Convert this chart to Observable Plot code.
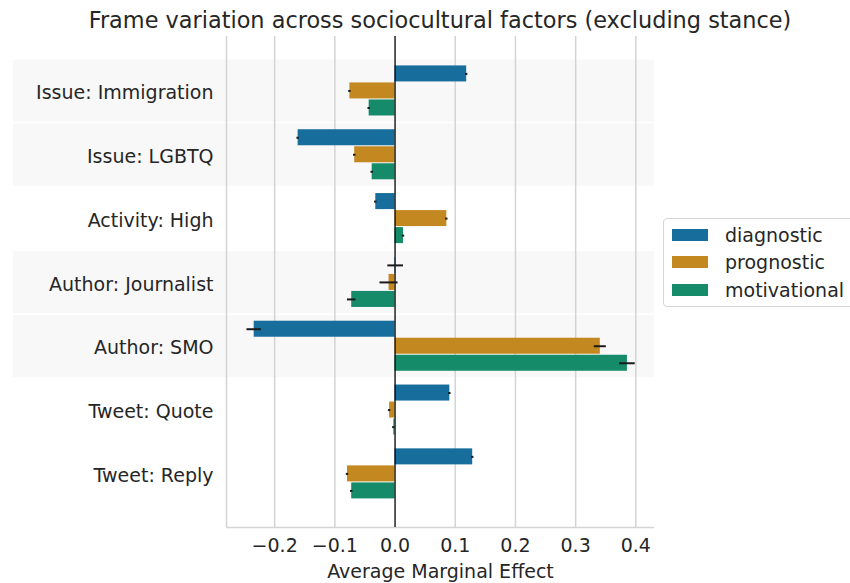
<!DOCTYPE html>
<html>
<head>
<meta charset="utf-8">
<script src="https://cdn.jsdelivr.net/npm/d3@7"></script>
<script src="https://cdn.jsdelivr.net/npm/@observablehq/plot@0.6"></script>
<style>
  html, body { margin: 0; padding: 0; background: white; overflow: hidden; }
  #wrap { position: relative; width: 850px; height: 583px; font-family: "DejaVu Sans", sans-serif; color: #262626; }
  #title { position: absolute; left: 0; top: 6px; width: 880px; text-align: center; font-size: 22.4px; line-height: 28px; white-space: nowrap; }
  #chart { position: absolute; left: 0; top: 36px; }
  #legend { position: absolute; left: 663px; top: 218px; width: 200px; height: 89px; border: 1px solid #d6d6d6; border-radius: 4px; background: white; box-sizing: border-box; }
  .item { position: absolute; left: 0; height: 24px; display: flex; align-items: center; font-size: 19px; }
  .sw { display: inline-block; width: 36px; height: 12px; margin-left: 8px; margin-right: 17px; }
</style>
</head>
<body>
<div id="wrap">
  <div id="title">Frame variation across sociocultural factors (excluding stance)</div>
  <div id="chart"></div>
  <div id="legend"></div>
</div>
<script>
const categories = ["Issue: Immigration", "Issue: LGBTQ", "Activity: High", "Author: Journalist", "Author: SMO", "Tweet: Quote", "Tweet: Reply"];
const frames = ["diagnostic", "prognostic", "motivational"];
const diagnostic    = [0.119, -0.161, -0.032, 0.001, -0.234, 0.091, 0.129];
const diagnosticErr = [0.002, 0.002, 0.002, 0.013, 0.012, 0.002, 0.002];
const prognostic    = [-0.075, -0.067, 0.086, -0.010, 0.341, -0.009, -0.079];
const prognosticErr = [0.002, 0.002, 0.002, 0.015, 0.010, 0.002, 0.002];
const motivational    = [-0.043, -0.038, 0.014, -0.072, 0.386, -0.002, -0.072];
const motivationalErr = [0.002, 0.002, 0.002, 0.007, 0.013, 0.002, 0.002];
const shadedCategories = ["Issue: Immigration", "Issue: LGBTQ", "Author: Journalist", "Author: SMO"];
const xTicks = [-0.2, -0.1, 0.0, 0.1, 0.2, 0.3, 0.4];
const colors = ["#176d9c", "#c38820", "#168b6a"];

const series = [diagnostic, prognostic, motivational];
const errs = [diagnosticErr, prognosticErr, motivationalErr];
const barW = 0.8 / 3;
const rows = categories.flatMap((c, i) => frames.map((f, j) => ({
  cat: c, i, frame: f, j,
  value: series[j][i], err: errs[j][i],
  yc: i + (j - 1) * barW
})));
const bands = shadedCategories.map(c => ({i: categories.indexOf(c)}));

const xDomain = [-0.28, 0.431];
const yDomain = [-0.853, 6.84];
const bandLeft = -0.634;

const plot = Plot.plot({
  width: 850,
  height: 547,
  marginTop: 0,
  marginBottom: 56,
  marginLeft: 226,
  marginRight: 196,
  style: {fontFamily: "DejaVu Sans, sans-serif", fontSize: "19px", color: "#262626", background: "white", overflow: "visible"},
  x: {domain: xDomain},
  y: {domain: yDomain, reverse: true},
  color: {domain: frames, range: colors},
  marks: [
    Plot.rect(bands, {x1: bandLeft, x2: xDomain[1], y1: d => d.i - 0.5, y2: d => d.i + 0.5, fill: "#f8f8f8", insetTop: 1, insetBottom: 0.5, clip: false}),
    Plot.ruleX(xTicks, {stroke: "#d4d4d4", strokeWidth: 1.5}),
    Plot.ruleX([xDomain[0]], {stroke: "#d4d4d4", strokeWidth: 1.5}),
    Plot.ruleY([yDomain[1]], {stroke: "#d4d4d4", strokeWidth: 1.5}),
    Plot.rect(rows, {x1: 0, x2: "value", y1: d => d.yc - barW / 2, y2: d => d.yc + barW / 2, fill: "frame", insetTop: 0.5, insetBottom: 0.5}),
    Plot.ruleX([0], {stroke: "black", strokeWidth: 1.2}),
    Plot.ruleY(rows, {y: "yc", x1: d => d.value - d.err, x2: d => d.value + d.err, stroke: "#1a1a1a", strokeWidth: 2}),
    Plot.axisX({ticks: xTicks, tickFormat: d3.format(".1f"), tickSize: 0, tickPadding: 11,
      label: "Average Marginal Effect", labelAnchor: "center", labelArrow: "none", labelOffset: 50}),
    Plot.axisY({ticks: d3.range(categories.length), tickFormat: i => categories[i],
      tickSize: 0, tickPadding: 13, dy: 2, label: null})
  ]
});
document.getElementById("chart").appendChild(plot);

const legend = document.getElementById("legend");
const tops = [4, 31, 59];
frames.forEach((f, k) => {
  const it = document.createElement("div");
  it.className = "item";
  it.style.top = tops[k] + "px";
  const sw = document.createElement("span");
  sw.className = "sw";
  sw.style.background = colors[k];
  const tx = document.createElement("span");
  tx.textContent = f;
  it.appendChild(sw);
  it.appendChild(tx);
  legend.appendChild(it);
});
</script>
</body>
</html>
